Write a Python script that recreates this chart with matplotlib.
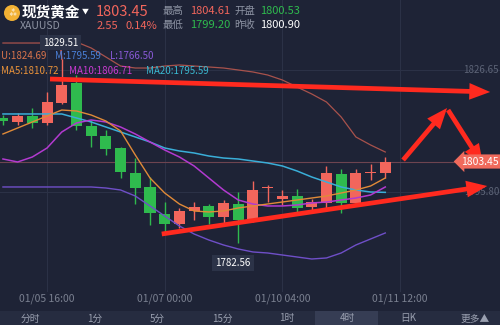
import numpy as np
import matplotlib.pyplot as plt
import matplotlib.transforms as mtransforms
from matplotlib.patches import Circle, Rectangle

plt.rcParams['font.family'] = ['Noto Sans CJK SC', 'DejaVu Sans']

# 4h candles, XAUUSD
opens = [1814.53, 1813.51, 1815.04, 1813.26, 1818.35, 1823.45, 1812.49, 1809.95, 1806.89,
         1800.52, 1796.95, 1790.07, 1787.53, 1790.84, 1792.11, 1789.31, 1792.62, 1788.55,
         1796.60, 1793.90, 1794.66, 1791.86, 1792.88, 1800.27, 1792.88, 1800.60, 1800.53]
highs = [1815.30, 1815.81, 1817.08, 1821.16, 1829.51, 1825.49, 1814.02, 1811.48, 1807.14,
         1804.34, 1799.50, 1793.13, 1791.60, 1793.13, 1792.62, 1793.64, 1795.68, 1798.48,
         1797.46, 1796.19, 1796.44, 1793.90, 1802.30, 1801.54, 1801.54, 1802.81, 1804.61]
lows = [1812.75, 1812.75, 1811.99, 1812.75, 1818.10, 1811.48, 1807.14, 1805.11, 1799.25,
        1792.62, 1787.27, 1785.23, 1786.51, 1788.55, 1787.53, 1787.78, 1782.56, 1788.04,
        1793.13, 1792.37, 1790.58, 1790.58, 1791.60, 1790.33, 1792.88, 1798.74, 1799.20]
closes = [1813.77, 1815.04, 1813.26, 1818.61, 1822.94, 1812.49, 1809.95, 1806.63, 1800.77,
          1796.70, 1790.33, 1787.53, 1790.84, 1791.86, 1789.31, 1792.88, 1788.55, 1796.19,
          1796.80, 1794.66, 1791.60, 1793.13, 1800.52, 1792.88, 1800.52, 1800.90, 1803.45]

ma5 = [1810.46, 1811.99, 1813.52, 1815.05, 1816.57, 1816.32, 1815.30, 1813.77, 1811.22,
       1805.11, 1799.25, 1795.43, 1792.62, 1790.84, 1790.59, 1790.84, 1791.61, 1792.12,
       1792.62, 1793.13, 1793.64, 1794.15, 1794.66, 1795.43, 1796.19, 1797.21, 1799.25]
ma10 = [1804.09, 1803.33, 1804.60, 1806.89, 1810.97, 1813.26, 1814.03, 1813.52, 1812.24,
        1810.46, 1808.42, 1806.38, 1804.60, 1802.31, 1799.25, 1796.19, 1793.64, 1792.62,
        1792.12, 1792.12, 1792.37, 1792.88, 1793.13, 1793.64, 1794.15, 1794.92, 1796.96]
ma20 = [1815.56, 1815.56, 1815.56, 1815.56, 1815.56, 1814.54, 1813.52, 1812.24, 1810.97,
        1809.70, 1808.42, 1806.89, 1806.13, 1805.62, 1804.85, 1804.34, 1804.09, 1803.58,
        1803.07, 1802.31, 1801.03, 1799.50, 1798.23, 1796.96, 1796.19, 1795.68, 1795.59]
boll_up = [1833.64, 1833.64, 1833.64, 1833.64, 1833.90, 1833.90, 1832.37, 1830.08, 1827.78,
           1827.27, 1827.27, 1827.78, 1828.04, 1827.78, 1827.53, 1827.27, 1826.77, 1826.26,
           1825.49, 1824.22, 1822.43, 1820.65, 1818.61, 1814.79, 1809.70, 1807.66, 1805.87]
boll_low = [1796.96, 1796.96, 1796.96, 1796.96, 1796.96, 1796.96, 1796.96, 1796.70, 1796.19,
            1794.66, 1792.12, 1789.57, 1787.02, 1784.98, 1783.45, 1782.18, 1781.16, 1780.40,
            1780.14, 1779.63, 1779.12, 1778.61, 1778.87, 1780.14, 1782.18, 1783.71, 1785.24]

time_ticks = [3, 11, 19, 27]
time_labels = ['01/05 16:00', '01/07 00:00', '01/10 04:00', '01/11 12:00']
price_grid = [1826.65, 1795.80]
tabs = ['分时', '1分', '5分', '15分', '1时', '4时', '日K', '更多▲']
tab_x = [30, 95, 157, 222, 287, 347, 408, 475]

# hand drawn arrows (start, end) in candle index / price
arrows = [((3.2, 1824.47), (33.13, 1821.16)),
          ((10.8, 1784.98), (32.93, 1797.21)),
          ((27.21, 1803.83), (30.2, 1817.08)),
          ((30.27, 1816.57), (32.65, 1802.56))]

BG = '#1e2336'
UP = '#f2665c'
DOWN = '#2fba4e'
GRID = '#2b3146'
GRAY = '#8d93a3'

W, H = 500, 325
fig = plt.figure(figsize=(5, 3.25), dpi=100, facecolor=BG)


def fx(x):
    return x / W


def fy(y):
    return 1 - y / H


ax = fig.add_axes([0, fy(292), 1, 292 / H])
ax.set_xlim(-0.2, 33.8)
ax.set_ylim(1770.2, 1844.6)
ax.axis('off')

for t in time_ticks:
    ax.axvline(t, color=GRID, lw=0.8, zorder=0)
for p in price_grid:
    ax.axhline(p, color=GRID, lw=0.8, zorder=0)
ax.axhline(closes[-1], color='#6e4450', lw=0.8, zorder=0)

x = np.arange(len(closes))
o = np.array(opens)
c = np.array(closes)
colors = [UP if cc >= oo else DOWN for oo, cc in zip(opens, closes)]
ax.vlines(x, lows, highs, colors=colors, lw=1, zorder=2)
ax.bar(x, np.maximum(np.abs(c - o), 0.25), width=0.75, bottom=np.minimum(o, c),
       color=colors, zorder=2)

ax.plot(x, boll_up, color='#a8524c', lw=0.9, zorder=3)
ax.plot(x, boll_low, color='#6f4fc8', lw=1.0, zorder=3)
ax.plot(x, ma20, color='#3aaed8', lw=1.1, zorder=3)
ax.plot(x, ma10, color='#b23ad0', lw=1.1, zorder=3)
ax.plot(x, ma5, color='#e08a38', lw=1.0, zorder=3)

# high / low markers
hi = int(np.argmax(highs))
lo = int(np.argmin(lows))
ax.annotate(f'{highs[hi]:.2f}', xy=(hi, highs[hi]), xytext=(-1, 12), textcoords='offset points',
            ha='center', va='center', color='white', fontsize=7, zorder=5,
            bbox=dict(boxstyle='square,pad=0.3', fc='#2b3247', ec='none'),
            arrowprops=dict(arrowstyle='-', color=UP, lw=1, shrinkA=0, shrinkB=0))
ax.annotate(f'{lows[lo]:.2f}', xy=(lo, lows[lo]), xytext=(-4, -14), textcoords='offset points',
            ha='center', va='center', color='white', fontsize=7, zorder=5,
            bbox=dict(boxstyle='square,pad=0.35', fc='#2c3348', ec='none'))

trans = mtransforms.blended_transform_factory(ax.transAxes, ax.transData)
for p in price_grid:
    ax.text(0.998, p, f'{p:.2f}', transform=trans, ha='right', va='center',
            color='#5d6477', fontsize=7, zorder=1)

for start, end in arrows:
    ax.annotate('', xy=end, xytext=start, zorder=6,
                arrowprops=dict(facecolor='#ff2a1f', edgecolor='none', width=3.4,
                                headwidth=12, headlength=15, shrink=0))

ax.text(0.998, closes[-1], f'{closes[-1]:.2f}', transform=trans, ha='right', va='center',
        color='white', fontsize=7.5, zorder=7,
        bbox=dict(boxstyle='larrow,pad=0.2', fc='#f06a5c', ec='none'))

# indicator legends
fig.text(fx(1), fy(56), 'U:1824.69', color='#d8744c', fontsize=7, va='center')
fig.text(fx(55), fy(56), 'M:1795.59', color='#4a80d8', fontsize=7, va='center')
fig.text(fx(110), fy(56), 'L:1766.50', color='#8a5ad8', fontsize=7, va='center')
fig.text(fx(1), fy(71), 'MA5:1810.72', color='#e8923a', fontsize=7, va='center')
fig.text(fx(69), fy(71), 'MA10:1806.71', color='#c83ad0', fontsize=7, va='center')
fig.text(fx(146), fy(71), 'MA20:1795.59', color='#3ab8d0', fontsize=7, va='center')

# header
fig.add_artist(Circle((0.12, 3.12), 0.08, transform=fig.dpi_scale_trans, fc='#f2b134', ec='none'))
fig.text(fx(12), fy(13), '⁂', color='white', fontsize=6, ha='center', va='center')
fig.text(fx(22), fy(12), '现货黄金', color='white', fontsize=10.5, fontweight='bold', va='center')
fig.text(fx(82), fy(12), '▼', color='white', fontsize=5, va='center')
fig.text(fx(20), fy(26), 'XAUUSD', color=GRAY, fontsize=7.5, va='center')
fig.text(fx(96), fy(12), '1803.45', color=UP, fontsize=10.5, va='center')
fig.text(fx(97), fy(26), '2.55', color=UP, fontsize=8, va='center')
fig.text(fx(125), fy(26), '0.14%', color=UP, fontsize=8, va='center')
fig.text(fx(163), fy(11), '最高', color=GRAY, fontsize=7.5, va='center')
fig.text(fx(190), fy(11), '1804.61', color=UP, fontsize=8, va='center')
fig.text(fx(163), fy(25), '最低', color=GRAY, fontsize=7.5, va='center')
fig.text(fx(190), fy(25), '1799.20', color=DOWN, fontsize=8, va='center')
fig.text(fx(234), fy(11), '开盘', color=GRAY, fontsize=7.5, va='center')
fig.text(fx(260), fy(11), '1800.53', color=DOWN, fontsize=8, va='center')
fig.text(fx(234), fy(25), '昨收', color=GRAY, fontsize=7.5, va='center')
fig.text(fx(260), fy(25), '1800.90', color='white', fontsize=8, va='center')

# time axis
tt = mtransforms.blended_transform_factory(ax.transData, fig.transFigure)
for t, lab in zip(time_ticks, time_labels):
    ax.text(t, fy(299), lab, transform=tt, ha='center', va='center', color='#7a8090', fontsize=7.5)

# tab bar
fig.add_artist(Rectangle((0, 0), 1, (H - 311) / H, transform=fig.transFigure, fc='#262c40', ec='none'))
fig.add_artist(Rectangle((fx(315), 0), 63 / W, (H - 311) / H, transform=fig.transFigure,
                         fc='#363d54', ec='none'))
for tx, lab in zip(tab_x, tabs):
    fig.text(fx(tx), fy(318.5), lab, ha='center', va='center', color='#9aa0b0', fontsize=7)

fig.savefig('out.png', dpi=100, facecolor=BG)
